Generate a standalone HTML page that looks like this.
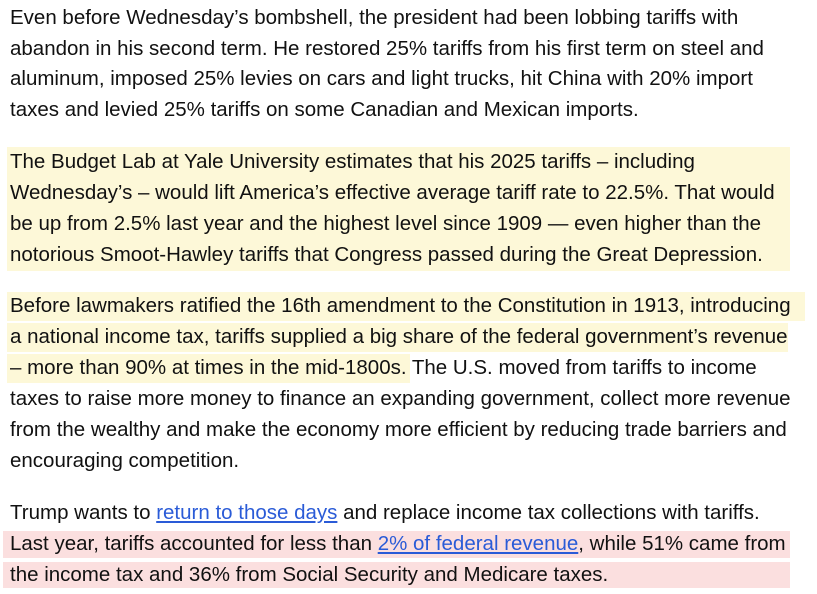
<!DOCTYPE html>
<html><head><meta charset="utf-8"><style>
body{margin:0;width:817px;height:594px;background:#fff;overflow:hidden;position:relative;font-family:"Liberation Sans",sans-serif;color:#111}
.l{position:absolute;left:10px;height:30px;line-height:30px;font-size:20.5px;white-space:nowrap;letter-spacing:0}
.hl{position:absolute;background:#fdf8d8}
.pk{position:absolute;background:#fbdfdf}
a{color:#2a5bd7;text-decoration:underline}
</style></head><body>
<div class="hl" style="left:7px;top:147px;width:783px;height:124px"></div>
<div class="hl" style="left:7px;top:292px;width:798px;height:29px"></div>
<div class="hl" style="left:7px;top:323px;width:781px;height:29px"></div>
<div class="hl" style="left:7px;top:354px;width:403px;height:29px"></div>
<div class="pk" style="left:3px;top:531px;width:787px;height:27px"></div>
<div class="pk" style="left:3px;top:562px;width:787px;height:26px"></div>

<div>
<div class="l" style="top:3px">Even before Wednesday’s bombshell, the president had been lobbing tariffs with</div>
<div class="l" style="top:34px">abandon in his second term. He restored 25% tariffs from his first term on steel and</div>
<div class="l" style="top:64px">aluminum, imposed 25% levies on cars and light trucks, hit China with 20% import</div>
<div class="l" style="top:95px">taxes and levied 25% tariffs on some Canadian and Mexican imports.</div>
</div>
<div>
<div class="l" style="top:147px">The Budget Lab at Yale University estimates that his 2025 tariffs – including</div>
<div class="l" style="top:178px">Wednesday’s – would lift America’s effective average tariff rate to 22.5%. That would</div>
<div class="l" style="top:209px">be up from 2.5% last year and the highest level since 1909 — even higher than the</div>
<div class="l" style="top:240px">notorious Smoot-Hawley tariffs that Congress passed during the Great Depression.</div>
</div>
<div>
<div class="l" style="top:291px">Before lawmakers ratified the 16th amendment to the Constitution in 1913, introducing</div>
<div class="l" style="top:322px">a national income tax, tariffs supplied a big share of the federal government’s revenue</div>
<div class="l" style="top:353px">– more than 90% at times in the mid-1800s. The U.S. moved from tariffs to income</div>
<div class="l" style="top:384px">taxes to raise more money to finance an expanding government, collect more revenue</div>
<div class="l" style="top:415px">from the wealthy and make the economy more efficient by reducing trade barriers and</div>
<div class="l" style="top:446px">encouraging competition.</div>
</div>
<div>
<div class="l" style="top:498px">Trump wants to <a href="#">return to those days</a> and replace income tax collections with tariffs.</div>
<div class="l" style="top:529px">Last year, tariffs accounted for less than <a href="#">2% of federal revenue</a>, while 51% came from</div>
<div class="l" style="top:560px">the income tax and 36% from Social Security and Medicare taxes.</div>
</div>
</body></html>
